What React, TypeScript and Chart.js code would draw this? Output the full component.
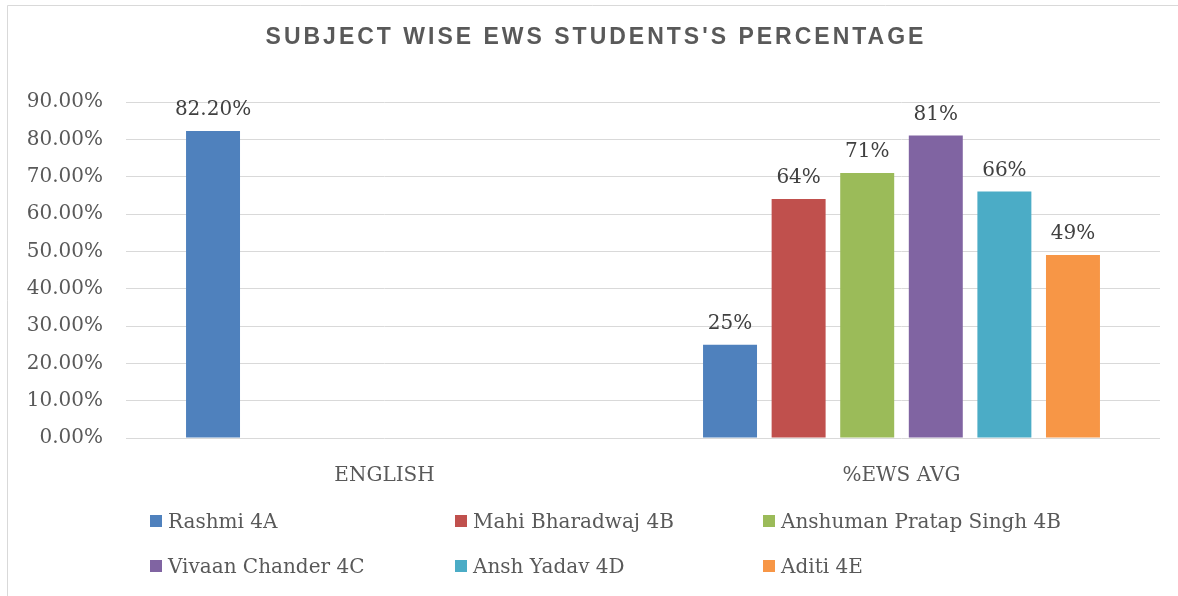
import React, { useEffect, useRef } from "react";
import { Chart, registerables } from "chart.js";

Chart.register(...registerables);

const TITLE = "SUBJECT WISE EWS STUDENTS'S PERCENTAGE";
const CATEGORIES = ["ENGLISH", "%EWS AVG"];
const CATEGORY_LABEL_DECIMALS = [2, 0];
const SERIES_NAMES = [
  "Rashmi 4A",
  "Mahi Bharadwaj 4B",
  "Anshuman Pratap Singh 4B",
  "Vivaan Chander 4C",
  "Ansh Yadav 4D",
  "Aditi 4E",
];
const RASHMI = [0.822, 0.25];
const MAHI = [null, 0.64];
const ANSHUMAN = [null, 0.71];
const VIVAAN = [null, 0.81];
const ANSH = [null, 0.66];
const ADITI = [null, 0.49];
const SERIES_VALUES = [RASHMI, MAHI, ANSHUMAN, VIVAAN, ANSH, ADITI];
const COLORS = ["#4f81bd", "#c0504d", "#9bbb59", "#8064a2", "#4bacc6", "#f79646"];
const Y_MAX = 0.9;
const Y_STEP = 0.1;

const SERIF = "'DejaVu Serif', serif";
const SANS = "'Liberation Sans', Arial, sans-serif";

const decorPlugin = {
  id: "decor",
  beforeDraw(chart: any) {
    const ctx = chart.ctx;
    ctx.save();
    ctx.fillStyle = "#ffffff";
    ctx.fillRect(0, 0, chart.width, chart.height);
    ctx.strokeStyle = "#d9d9d9";
    ctx.lineWidth = 1;
    ctx.beginPath();
    ctx.moveTo(7.5, chart.height);
    ctx.lineTo(7.5, 5.5);
    ctx.lineTo(chart.width, 5.5);
    ctx.stroke();
    ctx.restore();
  },
  afterDraw(chart: any) {
    const ctx = chart.ctx;
    ctx.save();
    // title
    ctx.fillStyle = "#595959";
    ctx.font = `bold 23px ${SANS}`;
    (ctx as any).letterSpacing = "3px";
    ctx.textAlign = "center";
    ctx.textBaseline = "alphabetic";
    ctx.fillText(TITLE, 596, 44);
    (ctx as any).letterSpacing = "0px";

    // data labels
    ctx.font = `20px ${SERIF}`;
    ctx.fillStyle = "#404040";
    ctx.textAlign = "center";
    chart.data.datasets.forEach((ds: any, di: number) => {
      const meta = chart.getDatasetMeta(di);
      meta.data.forEach((el: any, i: number) => {
        const v = ds.data[i];
        if (v === null || v === undefined) return;
        const txt = (v * 100).toFixed(CATEGORY_LABEL_DECIMALS[i]) + "%";
        ctx.fillText(txt, el.x, el.y - 16);
      });
    });

    // legend
    const colX = [150, 455, 763];
    const rowBase = [528, 573];
    ctx.textAlign = "left";
    ctx.fillStyle = "#595959";
    SERIES_NAMES.forEach((name, i) => {
      const c = i % 3;
      const r = Math.floor(i / 3);
      const x = colX[c];
      const b = rowBase[r];
      ctx.fillStyle = COLORS[i];
      ctx.fillRect(x, b - 13, 12, 12);
      ctx.fillStyle = "#595959";
      ctx.fillText(name, x + 18, b);
    });
    ctx.restore();
  },
};

export default function App() {
  const ref = useRef<HTMLCanvasElement | null>(null);
  useEffect(() => {
    if (!ref.current) return;
    const chart = new Chart(ref.current, {
      type: "bar",
      data: {
        labels: CATEGORIES,
        datasets: SERIES_NAMES.map((name, i) => ({
          label: name,
          data: SERIES_VALUES[i] as any,
          backgroundColor: COLORS[i],
          borderWidth: 0,
          barPercentage: 0.787,
          categoryPercentage: 0.796,
        })),
      },
      options: {
        responsive: false,
        animation: false,
        layout: { padding: { top: 102, right: 18, left: 0, bottom: 0 } },
        plugins: {
          legend: { display: false },
          title: { display: false },
          tooltip: { enabled: false },
        },
        scales: {
          x: {
            grid: { display: false },
            border: { display: false },
            ticks: {
              font: { family: SERIF, size: 20 },
              color: "#595959",
              padding: 18,
              maxRotation: 0,
            },
            afterFit(scale: any) {
              scale.height = 158;
            },
          },
          y: {
            min: 0,
            max: Y_MAX,
            border: { display: false },
            grid: { color: "#d9d9d9", lineWidth: 1, drawTicks: false },
            ticks: {
              stepSize: Y_STEP,
              font: { family: SERIF, size: 20 },
              color: "#595959",
              padding: 23,
              callback: (v: any) => (Number(v) * 100).toFixed(2) + "%",
            },
            afterFit(scale: any) {
              scale.width = 126;
            },
          },
        },
      },
      plugins: [decorPlugin],
    });
    return () => chart.destroy();
  }, []);
  return (
    <div style={{ position: "fixed", left: 0, top: 0, width: 1178, height: 596, background: "#fff" }}>
      <canvas ref={ref} width={1178} height={596} style={{ display: "block", width: 1178, height: 596 }} />
    </div>
  );
}
